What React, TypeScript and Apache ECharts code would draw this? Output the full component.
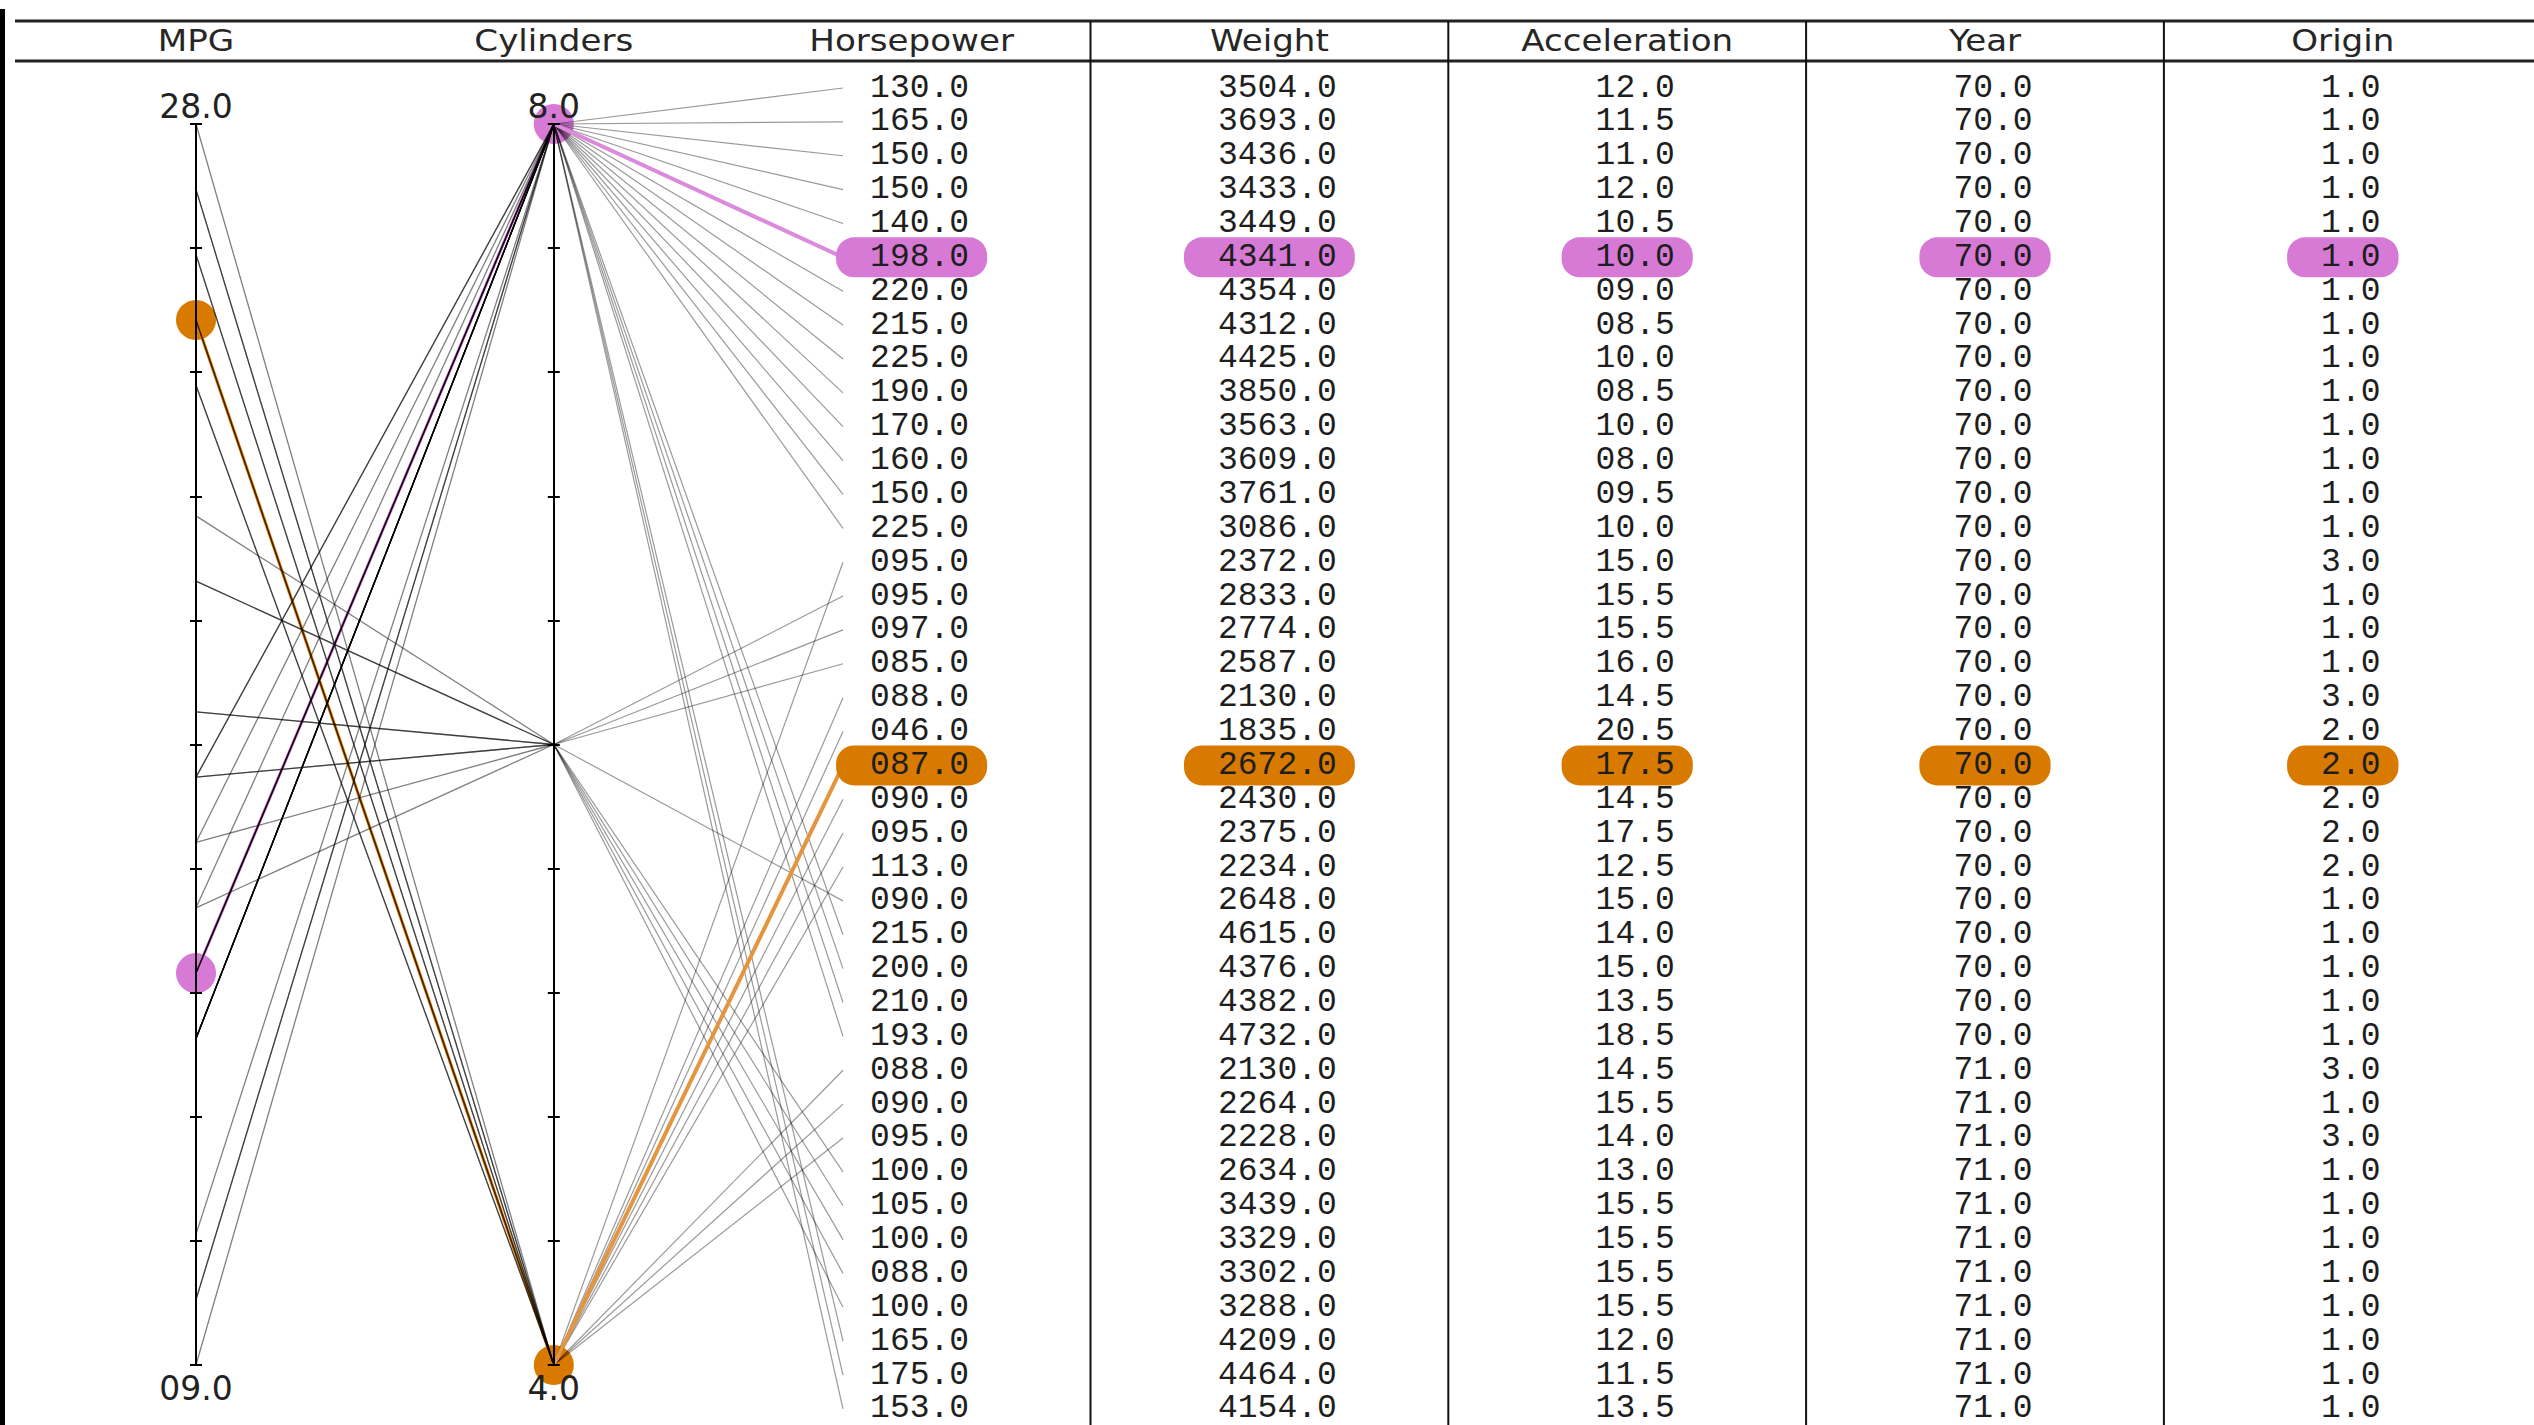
import React, { useEffect, useRef } from 'react';
import * as echarts from 'echarts';

// ---------- data ----------
const COLUMNS = ['MPG', 'Cylinders', 'Horsepower', 'Weight', 'Acceleration', 'Year', 'Origin'];
const MPG = [18, 15, 18, 16, 17, 15, 14, 14, 14, 15, 15, 14, 15, 14, 24, 22, 18, 21, 27, 26, 25, 24, 25, 26, 21, 10, 10, 11, 9, 27, 28, 25, 19, 16, 17, 19, 18, 14, 14, 14];
const CYLINDERS = [8, 8, 8, 8, 8, 8, 8, 8, 8, 8, 8, 8, 8, 8, 4, 6, 6, 6, 4, 4, 4, 4, 4, 4, 6, 8, 8, 8, 8, 4, 4, 4, 6, 6, 6, 6, 6, 8, 8, 8];
const HORSEPOWER = [130, 165, 150, 150, 140, 198, 220, 215, 225, 190, 170, 160, 150, 225, 95, 95, 97, 85, 88, 46, 87, 90, 95, 113, 90, 215, 200, 210, 193, 88, 90, 95, 100, 105, 100, 88, 100, 165, 175, 153];
const WEIGHT = [3504, 3693, 3436, 3433, 3449, 4341, 4354, 4312, 4425, 3850, 3563, 3609, 3761, 3086, 2372, 2833, 2774, 2587, 2130, 1835, 2672, 2430, 2375, 2234, 2648, 4615, 4376, 4382, 4732, 2130, 2264, 2228, 2634, 3439, 3329, 3302, 3288, 4209, 4464, 4154];
const ACCELERATION = [12, 11.5, 11, 12, 10.5, 10, 9, 8.5, 10, 8.5, 10, 8, 9.5, 10, 15, 15.5, 15.5, 16, 14.5, 20.5, 17.5, 14.5, 17.5, 12.5, 15, 14, 15, 13.5, 18.5, 14.5, 15.5, 14, 13, 15.5, 15.5, 15.5, 15.5, 12, 11.5, 13.5];
const YEAR = [70, 70, 70, 70, 70, 70, 70, 70, 70, 70, 70, 70, 70, 70, 70, 70, 70, 70, 70, 70, 70, 70, 70, 70, 70, 70, 70, 70, 70, 71, 71, 71, 71, 71, 71, 71, 71, 71, 71, 71];
const ORIGIN = [1, 1, 1, 1, 1, 1, 1, 1, 1, 1, 1, 1, 1, 1, 3, 1, 1, 1, 3, 2, 2, 2, 2, 2, 1, 1, 1, 1, 1, 3, 1, 3, 1, 1, 1, 1, 1, 1, 1, 1];
const MPG_RANGE = [9, 28];
const CYL_RANGE = [4, 8];
const TICK_STEPS = 10;
const HIGHLIGHTS = [
  { row: 5, color: '#d67ad6', line: '#dc8bdc' },
  { row: 20, color: '#d97a00', line: '#e5953f' },
];

// ---------- layout ----------
const W = 2534;
const H = 1425;
const COL0 = 196; // centre of first column
const COL_W = 357.8;
const AXIS_TOP = 124;
const AXIS_H = 1241;
const ROW_TOP = 88;
const ROW_H = 33.87;
const LINE_END = 843;
const HEADER_TOP = 21;
const HEADER_BOTTOM = 61;

const pad = (v: number, intDigits: number) => {
  const [a, b] = v.toFixed(1).split('.');
  return a.padStart(intDigits, '0') + '.' + b;
};

const TABLE = [HORSEPOWER, WEIGHT, ACCELERATION, YEAR, ORIGIN];
const TABLE_DIGITS = [3, 4, 2, 2, 1];

export default function App() {
  const ref = useRef<HTMLDivElement>(null);
  useEffect(() => {
    document.body.style.margin = '0';
    if (!ref.current) return;
    const chart = echarts.init(ref.current, null, { renderer: 'svg' });
    const N = MPG.length;
    const rows = MPG.map((_, i) => i);
    const hlSet = new Set(HIGHLIGHTS.map((h) => h.row));
    const plain = rows.filter((i) => !hlSet.has(i));
    const tableH = (N - 1) * ROW_H;

    // cylinder axis range in the second parallel so both map identically
    const cylPerPx = (CYL_RANGE[1] - CYL_RANGE[0]) / AXIS_H;
    const cylHi = CYL_RANGE[1] + (AXIS_TOP - ROW_TOP) * cylPerPx;
    const cylLo = CYL_RANGE[0] - (ROW_TOP + tableH - (AXIS_TOP + AXIS_H)) * cylPerPx;

    const hidden = {
      axisLine: { show: false },
      axisTick: { show: false },
      axisLabel: { show: false, formatter: () => '', color: 'rgba(0,0,0,0)' },
      splitLine: { show: false },
    };
    const labelFont = { fontFamily: 'DejaVu Sans', fontSize: 33, color: '#222' };
    const tickAxis = (position: string, inside: boolean, label: string, atMax: boolean) => ({
      gridIndex: 0,
      type: 'value',
      position,
      offset: 0,
      min: 0,
      max: TICK_STEPS,
      interval: 1,
      z: 5,
      axisLine: { show: !inside, onZero: false, lineStyle: { color: '#000', width: 2 } },
      axisTick: { show: true, inside, length: 6, lineStyle: { color: '#000', width: 2 } },
      splitLine: { show: false },
      axisLabel: {
        show: true,
        ...labelFont,
        align: 'center',
        verticalAlign: 'middle',
        margin: 0,
        lineHeight: atMax ? 36 : 46,
        formatter: (v: number) =>
          v === (atMax ? TICK_STEPS : 0) ? (atMax ? label + '\n ' : ' \n' + label) : '',
      },
    });

    const cells: any[] = [];
    const hlCells: any[] = [];
    TABLE.forEach((col, c) => {
      col.forEach((v, r) => {
        const h = HIGHLIGHTS.find((x) => x.row === r);
        const item: any = { value: [c, r], text: pad(v, TABLE_DIGITS[c]) };
        if (h) {
          item.label = { backgroundColor: h.color };
          hlCells.push(item);
        } else cells.push(item);
      });
    });
    const cellLabel = {
      show: true,
      position: 'inside',
      formatter: (p: any) => p.data.text,
      fontFamily: 'Liberation Mono',
      fontSize: 33,
      lineHeight: 32,
      color: '#1e1e1e',
      opacity: 1,
      padding: [5, 18, 3, 34],
      borderRadius: 18,
    };

    const graphic: any[] = [
      { type: 'rect', silent: true, shape: { x: 0, y: 9, width: 5, height: H - 9 }, style: { fill: '#000' } },
      { type: 'line', silent: true, shape: { x1: 15, y1: HEADER_TOP, x2: W, y2: HEADER_TOP }, style: { stroke: '#222', lineWidth: 3 } },
      { type: 'line', silent: true, shape: { x1: 15, y1: HEADER_BOTTOM, x2: W, y2: HEADER_BOTTOM }, style: { stroke: '#222', lineWidth: 3 } },
    ];
    for (let k = 3; k < COLUMNS.length; k++) {
      const x = COL0 - COL_W / 2 + k * COL_W;
      graphic.push({ type: 'line', silent: true, shape: { x1: x, y1: HEADER_TOP, x2: x, y2: H }, style: { stroke: '#111', lineWidth: 2 } });
    }
    COLUMNS.forEach((name, i) => {
      graphic.push({
        type: 'text',
        silent: true,
        x: COL0 + i * COL_W,
        y: (HEADER_TOP + HEADER_BOTTOM) / 2,
        scaleX: 1.1,
        style: {
          text: name,
          fill: '#262626',
          font: '31px "DejaVu Sans"',
          fontSize: 31,
          fontFamily: 'DejaVu Sans',
          textAlign: 'center',
          textVerticalAlign: 'middle',
          align: 'center',
          verticalAlign: 'middle',
        },
      });
    });

    const option: any = {
      animation: false,
      backgroundColor: '#fff',
      graphic,
      grid: [
        { left: COL0, top: AXIS_TOP, width: COL_W, height: AXIS_H },
        { left: COL0 + 1.5 * COL_W, top: ROW_TOP, width: 5 * COL_W, height: tableH },
      ],
      xAxis: [
        { gridIndex: 0, type: 'category', data: ['MPG', 'Cylinders'], boundaryGap: false, show: false },
        { gridIndex: 1, type: 'category', data: COLUMNS.slice(2), boundaryGap: true, show: false },
      ],
      yAxis: [
        tickAxis('left', false, pad(MPG_RANGE[1], 2), true),
        tickAxis('left', true, pad(MPG_RANGE[0], 2), false),
        tickAxis('right', false, pad(CYL_RANGE[1], 1), true),
        tickAxis('right', true, pad(CYL_RANGE[0], 1), false),
        { gridIndex: 0, type: 'value', min: MPG_RANGE[0], max: MPG_RANGE[1], show: false },
        { gridIndex: 0, type: 'value', min: CYL_RANGE[0], max: CYL_RANGE[1], show: false },
        { gridIndex: 1, type: 'value', min: 0, max: N - 1, inverse: true, show: false },
      ],
      parallel: [
        { left: COL0, top: AXIS_TOP, width: COL_W, height: AXIS_H },
        { left: COL0 + COL_W, top: ROW_TOP, width: LINE_END - (COL0 + COL_W), height: tableH },
      ],
      parallelAxis: [
        { dim: 0, parallelIndex: 0, type: 'value', min: MPG_RANGE[0], max: MPG_RANGE[1], ...hidden },
        { dim: 1, parallelIndex: 0, type: 'value', min: CYL_RANGE[0], max: CYL_RANGE[1], ...hidden },
        { dim: 0, parallelIndex: 1, type: 'value', min: cylLo, max: cylHi, ...hidden },
        { dim: 1, parallelIndex: 1, type: 'value', min: 0, max: N - 1, inverse: true, ...hidden },
      ],
      series: [
        {
          type: 'scatter', xAxisIndex: 0, yAxisIndex: 4, symbolSize: 40, z: 1, silent: true,
          itemStyle: { opacity: 1 },
          data: HIGHLIGHTS.map((h) => ({ value: ['MPG', MPG[h.row]], itemStyle: { color: h.color, opacity: 1 } })),
        },
        {
          type: 'scatter', xAxisIndex: 0, yAxisIndex: 5, symbolSize: 40, z: 1, silent: true,
          itemStyle: { opacity: 1 },
          data: HIGHLIGHTS.map((h) => ({ value: ['Cylinders', CYLINDERS[h.row]], itemStyle: { color: h.color, opacity: 1 } })),
        },
        ...HIGHLIGHTS.map((h) => ({
          type: 'parallel', parallelIndex: 0, z: 2, silent: true,
          lineStyle: { color: h.color, width: 3, opacity: 1 },
          data: [[MPG[h.row], CYLINDERS[h.row]]],
        })),
        {
          type: 'parallel', parallelIndex: 0, z: 3, silent: true,
          lineStyle: { color: '#000', width: 1.3, opacity: 0.5 },
          data: plain.map((i) => [MPG[i], CYLINDERS[i]]),
        },
        {
          type: 'parallel', parallelIndex: 1, z: 3, silent: true,
          lineStyle: { color: '#000', width: 1.2, opacity: 0.4 },
          data: plain.map((i) => [CYLINDERS[i], i]),
        },
        ...HIGHLIGHTS.map((h) => ({
          type: 'parallel', parallelIndex: 1, z: 4, silent: true,
          lineStyle: { color: h.line, width: 4, opacity: 1 },
          data: [[CYLINDERS[h.row], h.row]],
        })),
        {
          type: 'scatter', xAxisIndex: 1, yAxisIndex: 6, symbolSize: 1, z: 6, silent: true,
          itemStyle: { color: 'rgba(0,0,0,0)', opacity: 1 },
          label: cellLabel,
          data: cells,
        },
        {
          type: 'scatter', xAxisIndex: 1, yAxisIndex: 6, symbolSize: 1, z: 7, silent: true,
          itemStyle: { color: 'rgba(0,0,0,0)', opacity: 1 },
          label: cellLabel,
          data: hlCells,
        },
      ],
    };
    chart.setOption(option);
    return () => chart.dispose();
  }, []);
  return <div ref={ref} style={{ position: 'fixed', left: 0, top: 0, width: W + 'px', height: H + 'px' }} />;
}
